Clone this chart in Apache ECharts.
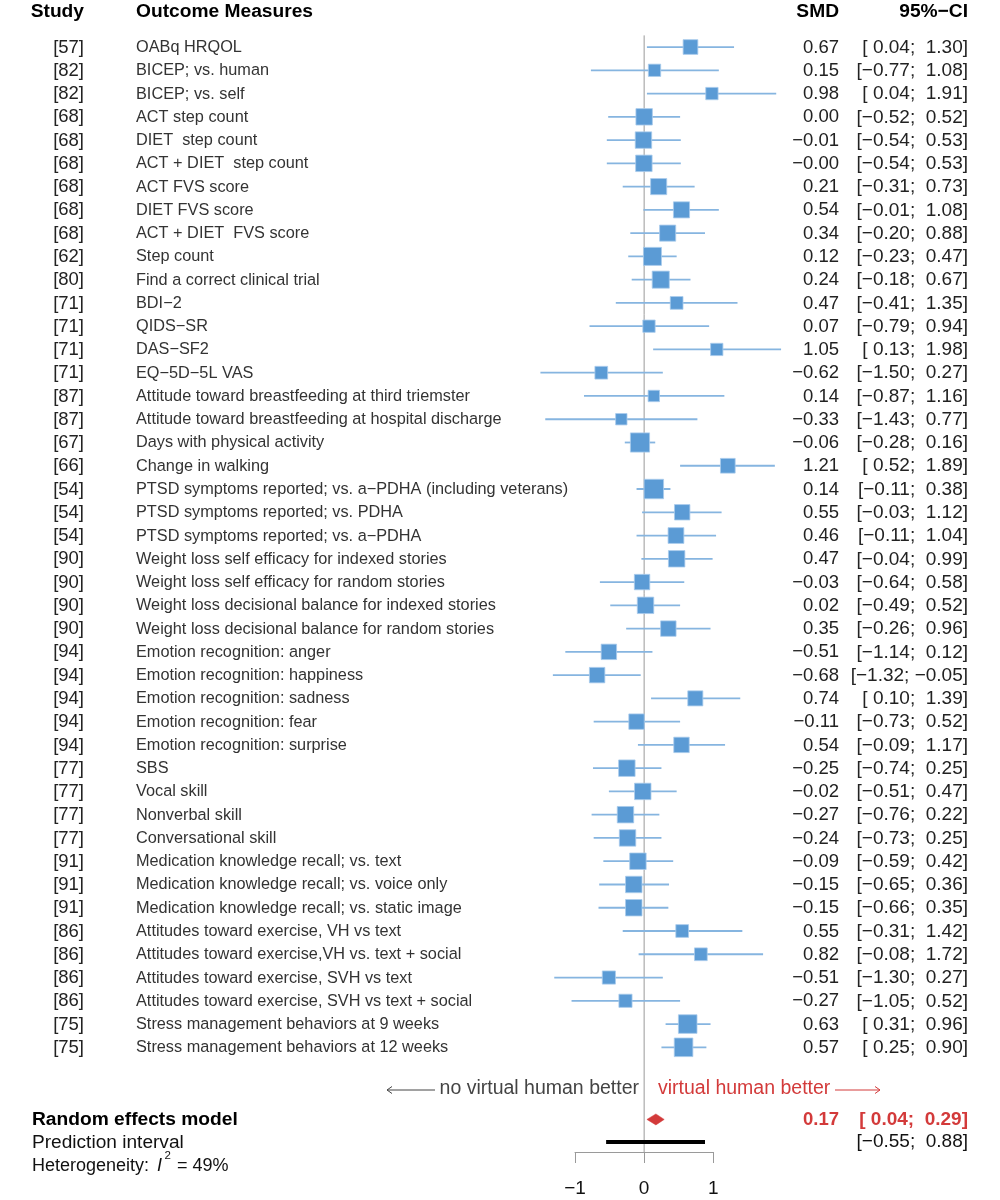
<!DOCTYPE html>
<html><head><meta charset="utf-8">
<script src="https://cdn.jsdelivr.net/npm/echarts@6/dist/echarts.min.js"></script>
<style>html,body{margin:0;padding:0;background:#fff}#c{width:1000px;height:1200px}</style>
</head><body><div id="c"></div>
<script>
// ---------------- data ----------------
const studies = ['[57]','[82]','[82]','[68]','[68]','[68]','[68]','[68]','[68]','[62]','[80]','[71]','[71]','[71]','[71]','[87]','[87]','[67]','[66]','[54]','[54]','[54]','[90]','[90]','[90]','[90]','[94]','[94]','[94]','[94]','[94]','[77]','[77]','[77]','[77]','[91]','[91]','[91]','[86]','[86]','[86]','[86]','[75]','[75]'];
const outcomes = [
 'OABq HRQOL','BICEP; vs. human','BICEP; vs. self','ACT step count','DIET  step count','ACT + DIET  step count',
 'ACT FVS score','DIET FVS score','ACT + DIET  FVS score','Step count','Find a correct clinical trial',
 'BDI\u22122','QIDS\u2212SR','DAS\u2212SF2','EQ\u22125D\u22125L VAS',
 'Attitude toward breastfeeding at third triemster','Attitude toward breastfeeding at hospital discharge',
 'Days with physical activity','Change in walking',
 'PTSD symptoms reported; vs. a\u2212PDHA (including veterans)','PTSD symptoms reported; vs. PDHA','PTSD symptoms reported; vs. a\u2212PDHA',
 'Weight loss self efficacy for indexed stories','Weight loss self efficacy for random stories',
 'Weight loss decisional balance for indexed stories','Weight loss decisional balance for random stories',
 'Emotion recognition: anger','Emotion recognition: happiness','Emotion recognition: sadness','Emotion recognition: fear','Emotion recognition: surprise',
 'SBS','Vocal skill','Nonverbal skill','Conversational skill',
 'Medication knowledge recall; vs. text','Medication knowledge recall; vs. voice only','Medication knowledge recall; vs. static image',
 'Attitudes toward exercise, VH vs text','Attitudes toward exercise,VH vs. text + social','Attitudes toward exercise, SVH vs text','Attitudes toward exercise, SVH vs text + social',
 'Stress management behaviors at 9 weeks','Stress management behaviors at 12 weeks'
];
const smd     = [0.67,0.15,0.98,0.00,-0.01,-0.004,0.21,0.54,0.34,0.12,0.24,0.47,0.07,1.05,-0.62,0.14,-0.33,-0.06,1.21,0.14,0.55,0.46,0.47,-0.03,0.02,0.35,-0.51,-0.68,0.74,-0.11,0.54,-0.25,-0.02,-0.27,-0.24,-0.09,-0.15,-0.15,0.55,0.82,-0.51,-0.27,0.63,0.57];
const ciLower = [0.04,-0.77,0.04,-0.52,-0.54,-0.54,-0.31,-0.01,-0.20,-0.23,-0.18,-0.41,-0.79,0.13,-1.50,-0.87,-1.43,-0.28,0.52,-0.11,-0.03,-0.11,-0.04,-0.64,-0.49,-0.26,-1.14,-1.32,0.10,-0.73,-0.09,-0.74,-0.51,-0.76,-0.73,-0.59,-0.65,-0.66,-0.31,-0.08,-1.30,-1.05,0.31,0.25];
const ciUpper = [1.30,1.08,1.91,0.52,0.53,0.53,0.73,1.08,0.88,0.47,0.67,1.35,0.94,1.98,0.27,1.16,0.77,0.16,1.89,0.38,1.12,1.04,0.99,0.58,0.52,0.96,0.12,-0.05,1.39,0.52,1.17,0.25,0.47,0.22,0.25,0.42,0.36,0.35,1.42,1.72,0.27,0.52,0.96,0.90];
const weights = [2.0,1.4,1.4,2.5,2.5,2.5,2.4,2.4,2.4,3.0,2.7,1.5,1.4,1.4,1.5,1.2,1.2,3.4,2.0,3.5,2.2,2.3,2.5,2.2,2.5,2.2,2.2,2.2,2.1,2.2,2.2,2.5,2.5,2.5,2.5,2.5,2.5,2.5,1.5,1.5,1.6,1.6,3.2,3.2];
const pooledSMD = 0.17, pooledLower = 0.04, pooledUpper = 0.29;
const predLower = -0.55, predUpper = 0.88;
const heterogeneityI2 = 49;
const xTicks = [-1, 0, 1];

// ---------------- layout / style ----------------
const FONT = 'Liberation Sans, Arial, Helvetica, sans-serif';
const BLUE = '#5b9bd5', BLUE_LINE = '#86b5e0', RED = '#d33a3a', TXT = '#222';
const STUDY_RIGHT = 84, LABEL_LEFT = 136, SMD_RIGHT = 839, CI_RIGHT = 968;
const POOLED_ROW = 47.1, PRED_ROW = 48.07;

const neg = v => v < 0 || Object.is(v, -0);
const fmt = v => (neg(v) ? '\u2212' : '') + Math.abs(v).toFixed(2);
const pad = v => (neg(v) ? '\u2212' : ' ') + Math.abs(v).toFixed(2);
const ci = (lo, hi) => '[' + pad(lo) + '; ' + pad(hi) + ']';

const rows = smd.map((v, i) => [i + 1, v, ciLower[i], ciUpper[i], weights[i]]);

const chart = echarts.init(document.getElementById('c'), null, {renderer: 'canvas'});

function txt(x, y, s, opt) {
  return {type: 'text', x: x, y: y, style: Object.assign({text: s, fill: TXT, fontSize: 16, fontFamily: FONT, verticalAlign: 'middle', align: 'left'}, opt || {})};
}

const option = {
  animation: false,
  backgroundColor: '#fff',
  grid: {left: 575, width: 138.3, top: 35.4, bottom: 48, outerBoundsMode: 'none', containLabel: false},
  xAxis: {
    type: 'value', min: xTicks[0], max: xTicks[xTicks.length - 1], interval: 1,
    axisLine: {show: true, onZero: false, lineStyle: {color: '#9a9a9a', width: 1}},
    axisTick: {show: true, length: 11, inside: false, lineStyle: {color: '#9a9a9a', width: 1}},
    axisLabel: {fontSize: 19, color: '#111', fontFamily: FONT, margin: 27, formatter: v => (v < 0 ? '\u2212' : '') + Math.abs(v)},
    splitLine: {show: false}
  },
  yAxis: {type: 'value', inverse: true, min: 0.5, max: 48.5, show: false},
  series: [
    { // zero reference line
      type: 'custom', clip: false, silent: true, z: 1,
      data: [[0]],
      encode: {x: 0},
      renderItem: (p, api) => {
        const a = api.coord([api.value(0), 0.5]), b = api.coord([api.value(0), 48.5]);
        return {type: 'line', shape: {x1: a[0], y1: a[1], x2: b[0], y2: b[1]}, style: {stroke: '#9a9a9a', lineWidth: 1}};
      }
    },
    { // CI lines and boxes
      type: 'custom', clip: false, silent: true, z: 2,
      data: rows,
      encode: {x: [1, 2, 3], y: 0},
      renderItem: (p, api) => {
        const row = api.value(0);
        const c = api.coord([api.value(1), row]);
        const l = api.coord([api.value(2), row]);
        const h = api.coord([api.value(3), row]);
        const s = 10.4 * Math.sqrt(api.value(4));
        return {type: 'group', children: [
          {type: 'line', shape: {x1: l[0], y1: l[1], x2: h[0], y2: h[1]}, style: {stroke: BLUE_LINE, lineWidth: 1.8}},
          {type: 'rect', shape: {x: c[0] - s / 2, y: c[1] - s / 2, width: s, height: s}, style: {fill: BLUE, stroke: '#a9cbec', lineWidth: 0.8}}
        ]};
      }
    },
    { // text columns
      type: 'custom', clip: false, silent: true, z: 3,
      data: rows,
      encode: {x: 1, y: 0},
      renderItem: (p, api) => {
        const i = p.dataIndex;
        const y = api.coord([0, api.value(0)])[1] + 0.5;
        return {type: 'group', children: [
          txt(STUDY_RIGHT, y, studies[i], {align: 'right', fontSize: 18.5}),
          txt(LABEL_LEFT, y, outcomes[i], {fontSize: 16.3, fill: '#333'}),
          txt(SMD_RIGHT, y, fmt(smd[i]), {align: 'right', fontSize: 18.5}),
          txt(CI_RIGHT, y, ci(ciLower[i], ciUpper[i]), {align: 'right', fontSize: 19})
        ]};
      }
    },
    { // pooled random effects diamond
      type: 'custom', clip: false, silent: true, z: 4,
      data: [[POOLED_ROW, pooledSMD, pooledLower, pooledUpper]],
      encode: {x: [1, 2, 3], y: 0},
      renderItem: (p, api) => {
        const row = api.value(0);
        const c = api.coord([api.value(1), row]);
        const l = api.coord([api.value(2), row]);
        const h = api.coord([api.value(3), row]);
        const hh = 5.5;
        return {type: 'group', children: [
          {type: 'polygon', shape: {points: [[l[0], c[1]], [c[0], c[1] - hh], [h[0], c[1]], [c[0], c[1] + hh]]}, style: {fill: RED, stroke: RED, lineWidth: 0.5}},
          txt(32, c[1] + 0.5, 'Random effects model', {fontSize: 19.2, fontWeight: 'bold', fill: '#000'}),
          txt(SMD_RIGHT, c[1], fmt(api.value(1)), {align: 'right', fontSize: 18.5, fontWeight: 'bold', fill: RED}),
          txt(CI_RIGHT, c[1], ci(api.value(2), api.value(3)), {align: 'right', fontSize: 19, fontWeight: 'bold', fill: RED})
        ]};
      }
    },
    { // prediction interval
      type: 'custom', clip: false, silent: true, z: 4,
      data: [[PRED_ROW, predLower, predUpper]],
      encode: {x: [1, 2], y: 0},
      renderItem: (p, api) => {
        const row = api.value(0);
        const l = api.coord([api.value(1), row]);
        const h = api.coord([api.value(2), row]);
        return {type: 'group', children: [
          {type: 'line', shape: {x1: l[0], y1: l[1], x2: h[0], y2: h[1]}, style: {stroke: '#000', lineWidth: 4}},
          txt(32, l[1] + 1, 'Prediction interval', {fontSize: 19.1, fill: '#111'}),
          txt(CI_RIGHT, l[1], ci(api.value(1), api.value(2)), {align: 'right', fontSize: 19, fill: '#111'})
        ]};
      }
    }
  ],
  graphic: [
    txt(STUDY_RIGHT, 12, 'Study', {align: 'right', fontSize: 19.2, fontWeight: 'bold', fill: '#000'}),
    txt(LABEL_LEFT, 12, 'Outcome Measures', {fontSize: 19.2, fontWeight: 'bold', fill: '#000'}),
    txt(SMD_RIGHT, 12, 'SMD', {align: 'right', fontSize: 19.2, fontWeight: 'bold', fill: '#000'}),
    txt(CI_RIGHT, 12, '95%\u2212CI', {align: 'right', fontSize: 19.2, fontWeight: 'bold', fill: '#000'}),
    // direction labels
    txt(639, 1089, 'no virtual human better', {align: 'right', fontSize: 19.5, fill: '#444'}),
    {type: 'line', shape: {x1: 387, y1: 1090, x2: 435, y2: 1090}, style: {stroke: '#444', lineWidth: 1}},
    {type: 'polyline', shape: {points: [[392, 1086.5], [387, 1090], [392, 1093.5]]}, style: {stroke: '#444', lineWidth: 1, fill: null}},
    txt(658, 1089, 'virtual human better', {fontSize: 19.5, fill: RED}),
    {type: 'line', shape: {x1: 835, y1: 1090, x2: 880, y2: 1090}, style: {stroke: RED, lineWidth: 1}},
    {type: 'polyline', shape: {points: [[875, 1086.5], [880, 1090], [875, 1093.5]]}, style: {stroke: RED, lineWidth: 1, fill: null}},
    // heterogeneity
    txt(32, 1166, 'Heterogeneity:', {fontSize: 18, fill: '#111'}),
    txt(157, 1166, 'I', {fontSize: 18, fontStyle: 'italic', fill: '#111'}),
    txt(164.5, 1155.5, '2', {fontSize: 11.5, fill: '#111'}),
    txt(177, 1166, '= ' + heterogeneityI2 + '%', {fontSize: 18, fill: '#111'})
  ]
};
chart.setOption(option);
</script>
</body></html>
